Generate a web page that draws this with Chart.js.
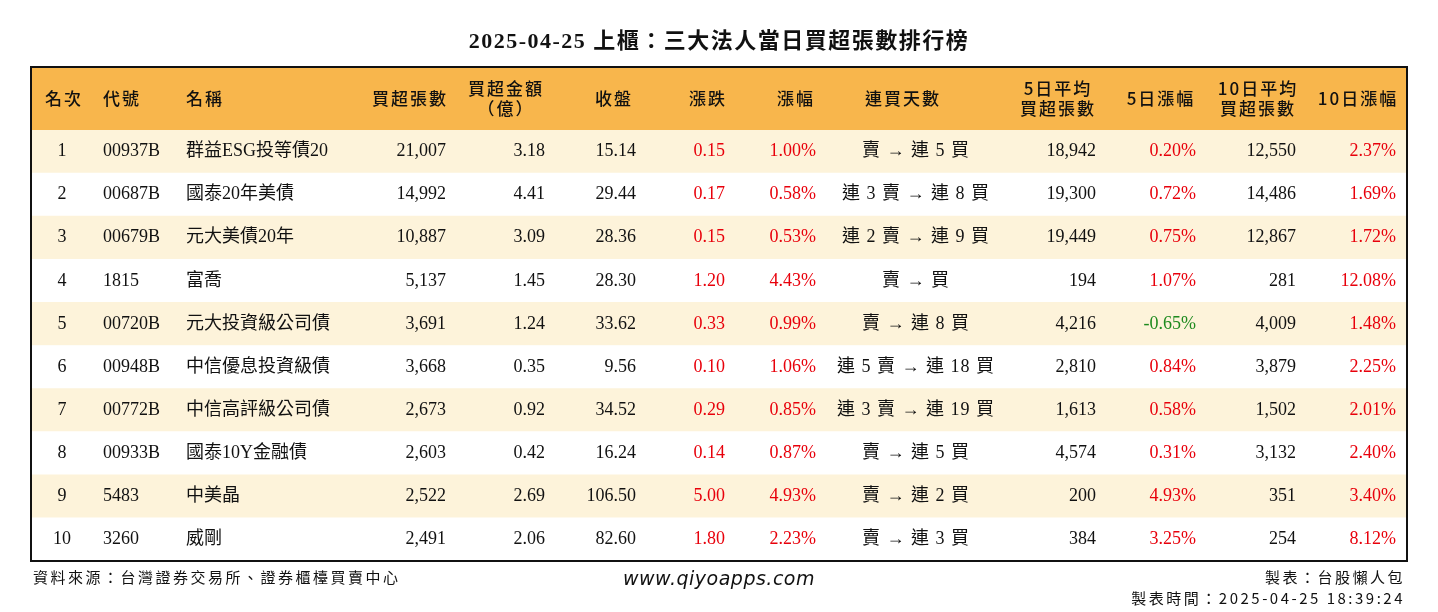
<!DOCTYPE html>
<html>
<head>
<meta charset="utf-8">
<script src="https://cdn.jsdelivr.net/npm/chart.js@4"></script>
<style>
  html, body { margin: 0; padding: 0; background: #fff; overflow: hidden; }
  #wrap { width: 1438px; height: 612px; position: relative; }
</style>
</head>
<body>
<div id="wrap"><canvas id="tbl" width="1438" height="612"></canvas></div>
<script>
const ranks = ['1', '2', '3', '4', '5', '6', '7', '8', '9', '10'];
const codes = ['00937B', '00687B', '00679B', '1815', '00720B', '00948B', '00772B', '00933B', '5483', '3260'];
const names = ['群益ESG投等債20', '國泰20年美債', '元大美債20年', '富喬', '元大投資級公司債', '中信優息投資級債', '中信高評級公司債', '國泰10Y金融債', '中美晶', '威剛'];
const netBuy = [21007, 14992, 10887, 5137, 3691, 3668, 2673, 2603, 2522, 2491];
const amount = [3.18, 4.41, 3.09, 1.45, 1.24, 0.35, 0.92, 0.42, 2.69, 2.06];
const closes = [15.14, 29.44, 28.36, 28.30, 33.62, 9.56, 34.52, 16.24, 106.50, 82.60];
const changes = [0.15, 0.17, 0.15, 1.20, 0.33, 0.10, 0.29, 0.14, 5.00, 1.80];
const pcts = [1.00, 0.58, 0.53, 4.43, 0.99, 1.06, 0.85, 0.87, 4.93, 2.23];
const streaks = ['賣 → 連 5 買', '連 3 賣 → 連 8 買', '連 2 賣 → 連 9 買', '賣 → 買', '賣 → 連 8 買', '連 5 賣 → 連 18 買', '連 3 賣 → 連 19 買', '賣 → 連 5 買', '賣 → 連 2 買', '賣 → 連 3 買'];
const avg5 = [18942, 19300, 19449, 194, 4216, 2810, 1613, 4574, 200, 384];
const pct5 = [0.20, 0.72, 0.75, 1.07, -0.65, 0.84, 0.58, 0.31, 4.93, 3.25];
const avg10 = [12550, 14486, 12867, 281, 4009, 3879, 1502, 3132, 351, 254];
const pct10 = [2.37, 1.69, 1.72, 12.08, 1.48, 2.25, 2.01, 2.40, 3.40, 8.12];

const RED = '#e8000b', GREEN = '#1e8a1e', BLACK = '#111';
const fmtInt = v => v.toLocaleString('en-US');
const fmtPct = v => v.toFixed(2) + '%';
const pctColor = v => v < 0 ? GREEN : RED;

// column definitions: x, align, header lines, cell getter
const columns = [
  { x: 62, align: 'center', head: ['名次'], hx: 64, cell: i => [ranks[i], BLACK] },
  { x: 103, align: 'left', head: ['代號'], hx: 103, halign: 'left', cell: i => [codes[i], BLACK] },
  { x: 186, align: 'left', head: ['名稱'], hx: 186, halign: 'left', cell: i => [names[i], BLACK] },
  { x: 446, align: 'right', head: ['買超張數'], hx: 410, cell: i => [fmtInt(netBuy[i]), BLACK] },
  { x: 545, align: 'right', head: ['買超金額', '（億）'], hx: 506, cell: i => [amount[i].toFixed(2), BLACK] },
  { x: 636, align: 'right', head: ['收盤'], hx: 614, cell: i => [closes[i].toFixed(2), BLACK] },
  { x: 725, align: 'right', head: ['漲跌'], hx: 708, cell: i => [changes[i].toFixed(2), pctColor(changes[i])] },
  { x: 816, align: 'right', head: ['漲幅'], hx: 796, cell: i => [fmtPct(pcts[i]), pctColor(pcts[i])] },
  { x: 916, align: 'center', head: ['連買天數'], hx: 903, cell: i => [streaks[i], BLACK], spacing: '1px' },
  { x: 1096, align: 'right', head: ['5日平均', '買超張數'], hx: 1058, cell: i => [fmtInt(avg5[i]), BLACK] },
  { x: 1196, align: 'right', head: ['5日漲幅'], hx: 1161, cell: i => [fmtPct(pct5[i]), pctColor(pct5[i])] },
  { x: 1296, align: 'right', head: ['10日平均', '買超張數'], hx: 1258, cell: i => [fmtInt(avg10[i]), BLACK] },
  { x: 1396, align: 'right', head: ['10日漲幅'], hx: 1358, cell: i => [fmtPct(pct10[i]), pctColor(pct10[i])] }
];

const SERIF = '"Liberation Serif", "Noto Sans CJK TC", serif';
const CJK = '"Noto Sans CJK TC", sans-serif';

const tablePlugin = {
  id: 'tablePlugin',
  afterDatasetsDraw(chart) {
    const { ctx, chartArea: a, scales: { y } } = chart;
    const headTop = 67;
    ctx.save();
    // header band
    ctx.fillStyle = '#f8b64c';
    ctx.fillRect(a.left, headTop, a.right - a.left, a.top - headTop);
    ctx.fillStyle = BLACK;
    ctx.textBaseline = 'middle';
    ctx.font = '500 17px ' + CJK;
    ctx.letterSpacing = '2px';
    columns.forEach(c => {
      ctx.textAlign = c.halign || 'center';
      const mid = (headTop + a.top) / 2;
      if (c.head.length === 1) ctx.fillText(c.head[0], c.hx, mid);
      else {
        ctx.fillText(c.head[0], c.hx, mid - 10);
        ctx.fillText(c.head[1], c.hx, mid + 10);
      }
    });
    // cells
    ctx.font = '18px ' + SERIF;
    ranks.forEach((r, i) => {
      const py = y.getPixelForValue(i);
      columns.forEach(c => {
        const [txt, col] = c.cell(i);
        ctx.fillStyle = col;
        ctx.textAlign = c.align;
        ctx.letterSpacing = c.spacing || '0px';
        ctx.fillText(txt, c.x, py);
      });
    });
    // frame
    ctx.strokeStyle = '#111';
    ctx.lineWidth = 2;
    ctx.strokeRect(a.left, headTop, a.right - a.left, a.bottom - headTop);
    // title
    ctx.fillStyle = BLACK;
    ctx.textAlign = 'center';
    ctx.font = 'bold 22px ' + SERIF;
    ctx.letterSpacing = '1.5px';
    ctx.fillText('2025-04-25 上櫃：三大法人當日買超張數排行榜', 719, 42);
    // footer
    ctx.font = '15px ' + CJK;
    ctx.letterSpacing = '2.5px';
    ctx.textAlign = 'left';
    ctx.fillText('資料來源：台灣證券交易所、證券櫃檯買賣中心', 33, 577);
    ctx.textAlign = 'right';
    ctx.fillText('製表：台股懶人包', 1405, 577);
    ctx.fillText('製表時間：2025-04-25 18:39:24', 1405, 598);
    ctx.letterSpacing = '0.5px';
    ctx.textAlign = 'center';
    ctx.font = 'italic 19px "DejaVu Sans", sans-serif';
    ctx.fillText('www.qiyoapps.com', 719, 580);
    ctx.restore();
  }
};

new Chart(document.getElementById('tbl'), {
  type: 'bar',
  data: {
    labels: ranks,
    datasets: [{
      data: ranks.map(() => 1),
      backgroundColor: ranks.map((r, i) => i % 2 === 0 ? '#fdf3da' : '#ffffff'),
      barPercentage: 1,
      categoryPercentage: 1,
      borderWidth: 0
    }]
  },
  options: {
    indexAxis: 'y',
    responsive: false,
    animation: false,
    devicePixelRatio: 1,
    layout: { padding: { left: 31, right: 31, top: 130, bottom: 51 } },
    plugins: { legend: { display: false }, tooltip: { enabled: false } },
    scales: {
      x: { display: false, min: 0, max: 1 },
      y: { display: false }
    }
  },
  plugins: [tablePlugin]
});
</script>
</body>
</html>
